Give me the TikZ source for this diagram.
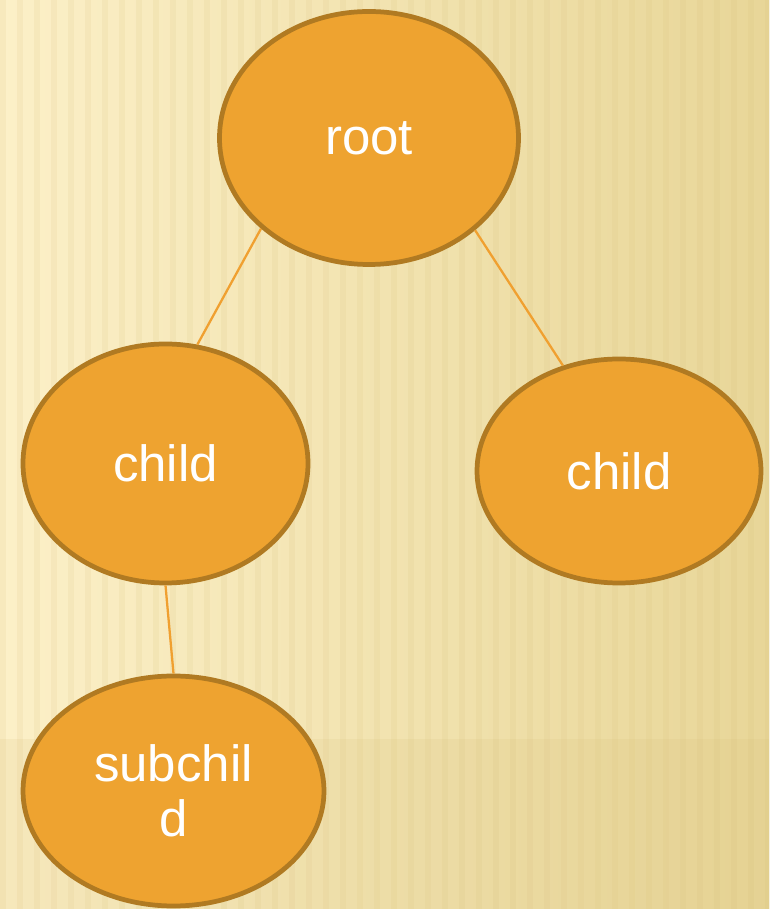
\documentclass[tikz,border=0pt]{standalone}
\usepackage{fontspec}
\setmainfont{Liberation Sans}
\usepackage{tikz}
\usetikzlibrary{shapes}
\usetikzlibrary{backgrounds}
\definecolor{bubble}{RGB}{238,163,48}
\definecolor{rim}{RGB}{176,122,34}
\definecolor{twig}{RGB}{240,160,48}
\definecolor{paperlight}{RGB}{252,240,200}
\definecolor{paperdark}{RGB}{232,214,152}
\definecolor{stripe}{RGB}{214,190,120}

\begin{document}
\begin{tikzpicture}[twig/.style={draw=twig,line width=1.3pt},
        tnode/.style={ellipse,inner sep=0pt,line width=2.7pt,draw=rim,fill=bubble,
          text=white,align=center,font=\fontsize{29}{31}\selectfont}]
        \useasboundingbox (0,0) rectangle (15.38,18.18);
        \node[tnode,minimum width=5.98cm,minimum height=5.06cm] (root) at (7.38,15.42) {root};
        \node[tnode,minimum width=5.70cm,minimum height=4.78cm] (left) at (3.31,8.91) {child};
        \node[tnode,minimum width=5.68cm,minimum height=4.48cm] (right) at (12.38,8.76) {child};
        \node[tnode,minimum width=6.02cm,minimum height=4.60cm] (sub) at (3.47,2.36) {subchil\\d};
        \path[twig]
          (root.220.7) -- (left.75.3)
          (root.319.5) -- (right.118.7)
          (left.270) -- (sub.90);
        \begin{pgfonlayer}{background}
          \shade[left color=paperlight,right color=paperdark] (0,0) rectangle (15.38,18.18);
          \foreach \x in {0,0.34,...,15.3}
            \fill[stripe,opacity=0.13] (\x,0) rectangle ++(0.12,18.18);
          \fill[stripe,opacity=0.15] (0,0) rectangle (15.38,3.4);
        \end{pgfonlayer}
      \end{tikzpicture}
\end{document}
